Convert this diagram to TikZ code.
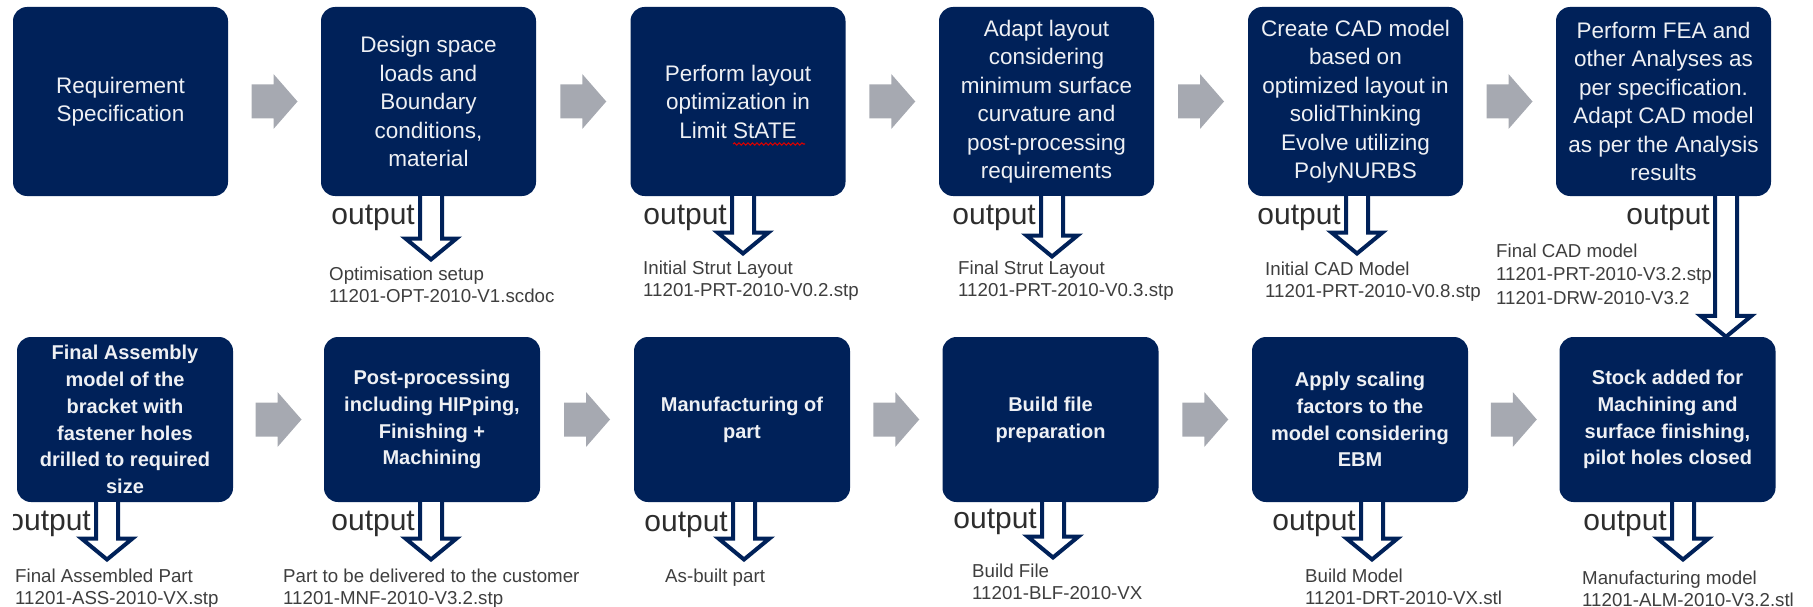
\documentclass[tikz,border=0pt]{standalone}
\usepackage{fontspec}
\setmainfont{Liberation Sans}
\usetikzlibrary{calc,decorations.pathmorphing}

\definecolor{navy}{RGB}{0,33,89}
\definecolor{flowgray}{RGB}{166,169,177}
\definecolor{captiongray}{RGB}{62,62,62}
\definecolor{labelgray}{RGB}{45,45,45}
\definecolor{boxtext}{RGB}{238,240,244}

\tikzset{
  stage/.style={rectangle, rounded corners=14pt, fill=navy, text=boxtext,
    align=center, inner sep=0pt, minimum width=215pt},
  upper/.style={stage, minimum height=189pt, font=\fontsize{22.5}{28.5}\selectfont},
  lower/.style={stage, minimum height=165pt, minimum width=216pt,
    font=\fontsize{20}{26.8}\selectfont\bfseries},
  outlabel/.style={anchor=base east, inner sep=0pt, text=labelgray,
    font=\fontsize{30}{32}\selectfont},
  filelabel/.style={anchor=north west, inner sep=0pt, align=left, text=captiongray,
    font=\fontsize{18.7}{22}\selectfont},
  flowarrow/.style={fill=flowgray},
  hollow/.style={draw=navy, fill=white, line width=4pt, line join=miter}
}

% hollow output arrow: shaft from #1 down to the tip #2
\newcommand\outputarrow[2]{%
  \draw[hollow] let \p1=(#1), \p2=(#2) in
    (\x1-11pt,\y1) -- (\x1-11pt,\y2+21pt) -- (\x1-25.5pt,\y2+21pt) -- (\p2)
    -- (\x1+25.5pt,\y2+21pt) -- (\x1+11pt,\y2+21pt) -- (\x1+11pt,\y1);}

% grey process arrow centred on #1
\newcommand\steparrow[1]{%
  \fill[flowarrow] (#1) ++(-23,17) -- ++(22,0) -- ++(0,10.5) -- ++(24,-27.5)
    -- ++(-24,-27.5) -- ++(0,10.5) -- ++(-22,0) -- cycle;}

\begin{document}
\begin{tikzpicture}[x=1pt,y=-1pt]
\useasboundingbox (0,0) rectangle (1813,607);

% ---------- upper row ----------
\node[upper] (b1) at (120.5,101.5) {Requirement\\Specification};
\node[upper] (b2) at (428.5,101.5) {Design space\\loads and\\Boundary\\conditions,\\material};
\node[upper] (b3) at (738,101.5) {Perform layout\\optimization in\\Limit StATE};
\node[upper] (b4) at (1046.5,101.5) {Adapt layout\\considering\\minimum surface\\curvature and\\post-processing\\requirements};
\node[upper] (b5) at (1355.5,101.5) {Create CAD model\\based on\\optimized layout in\\solidThinking\\Evolve utilizing\\PolyNURBS};
\node[upper] (b6) at (1663.5,101.5) {Perform FEA and\\other Analyses as\\per specification.\\Adapt CAD model\\as per the Analysis\\results};

% spell-check mark under the solver name
\draw[red!85!black, line width=1.1pt, decorate,
  decoration={snake, segment length=4.5pt, amplitude=1.1pt}] (733,144) -- (805,144);

% ---------- lower row ----------
\node[lower] (c1) at (125,419.5) {Final Assembly\\model of the\\bracket with\\fastener holes\\drilled to required\\size};
\node[lower] (c2) at (432,419.5) {Post-processing\\including HIPping,\\Finishing +\\Machining};
\node[lower] (c3) at (742,419.5) {Manufacturing of\\part};
\node[lower] (c4) at (1050.5,419.5) {Build file\\preparation};
\node[lower] (c5) at (1360,419.5) {Apply scaling\\factors to the\\model considering\\EBM};
\node[lower] (c6) at (1667.5,419.5) {Stock added for\\Machining and\\surface finishing,\\pilot holes closed};

% ---------- grey flow arrows ----------
\foreach \a/\b [count=\i] in {b1/b2,b2/b3,b3/b4,b4/b5,b5/b6}{
  \coordinate (g\i) at ($(\a.east)!0.5!(\b.west)$);
  \steparrow{g\i}}
\foreach \a/\b [count=\i] in {c1/c2,c2/c3,c3/c4,c4/c5,c5/c6}{
  \coordinate (h\i) at ($(\a.east)!0.5!(\b.west)$);
  \steparrow{h\i}}

% ---------- output file names ----------
\node[filelabel] (f2) at (329,266.5) {Optimisation setup\\11201-OPT-2010-V1.scdoc};
\node[filelabel] (f3) at (643,260.5) {Initial Strut Layout\\11201-PRT-2010-V0.2.stp};
\node[filelabel] (f4) at (958,260.5) {Final Strut Layout\\11201-PRT-2010-V0.3.stp};
\node[filelabel] (f5) at (1265,261.5) {Initial CAD Model\\11201-PRT-2010-V0.8.stp};
\node[filelabel, font=\fontsize{18.7}{23.5}\selectfont] (f6) at (1496,243.5)
  {Final CAD model\\11201-PRT-2010-V3.2.stp\\11201-DRW-2010-V3.2};

\node[filelabel] (e1) at (15,568.5) {Final Assembled Part\\11201-ASS-2010-VX.stp};
\node[filelabel] (e2) at (283,568.5) {Part to be delivered to the customer\\11201-MNF-2010-V3.2.stp};
\node[filelabel] (e3) at (665,568.5) {As-built part};
\node[filelabel] (e4) at (972,563.5) {Build File\\11201-BLF-2010-VX};
\node[filelabel] (e5) at (1305,568.5) {Build Model\\11201-DRT-2010-VX.stl};
\node[filelabel] (e6) at (1582,570.5) {Manufacturing model\\11201-ALM-2010-V3.2.stl};

% ---------- "output" labels ----------
\node[outlabel] (l2) at (415,224) {output};
\node[outlabel] (l3) at (727,224) {output};
\node[outlabel] (l4) at (1036,224) {output};
\node[outlabel] (l5) at (1341,224) {output};
\node[outlabel] (l6) at (1710,224) {output};
\begin{scope}
  \clip (13,480) rectangle (95,545);
  \node[outlabel] (k1) at (91,530) {output};
\end{scope}
\node[outlabel] (k2) at (415,530) {output};
\node[outlabel] (k3) at (728,531) {output};
\node[outlabel] (k4) at (1037,528) {output};
\node[outlabel] (k5) at (1356,530) {output};
\node[outlabel] (k6) at (1667,530) {output};

% ---------- hollow output arrows ----------
\coordinate (t2) at (431,259.5);
\coordinate (t3) at (743,253.5);
\coordinate (t4) at (1052,256.5);
\coordinate (t5) at (1357,253.5);
\coordinate (t6) at (1726,335);
\coordinate (s1) at (107,559.5);
\coordinate (s2) at (431,559.5);
\coordinate (s3) at (744,559.5);
\coordinate (s4) at (1053,557.5);
\coordinate (s5) at (1372,559.5);
\coordinate (s6) at (1683,559.5);

\foreach \k in {2,...,5}{\outputarrow{b\k.south -| t\k}{t\k}}
\outputarrow{b6.south -| t6}{c6.north -| t6}
\foreach \k in {1,...,6}{\outputarrow{c\k.south -| s\k}{s\k}}
\end{tikzpicture}
\end{document}
